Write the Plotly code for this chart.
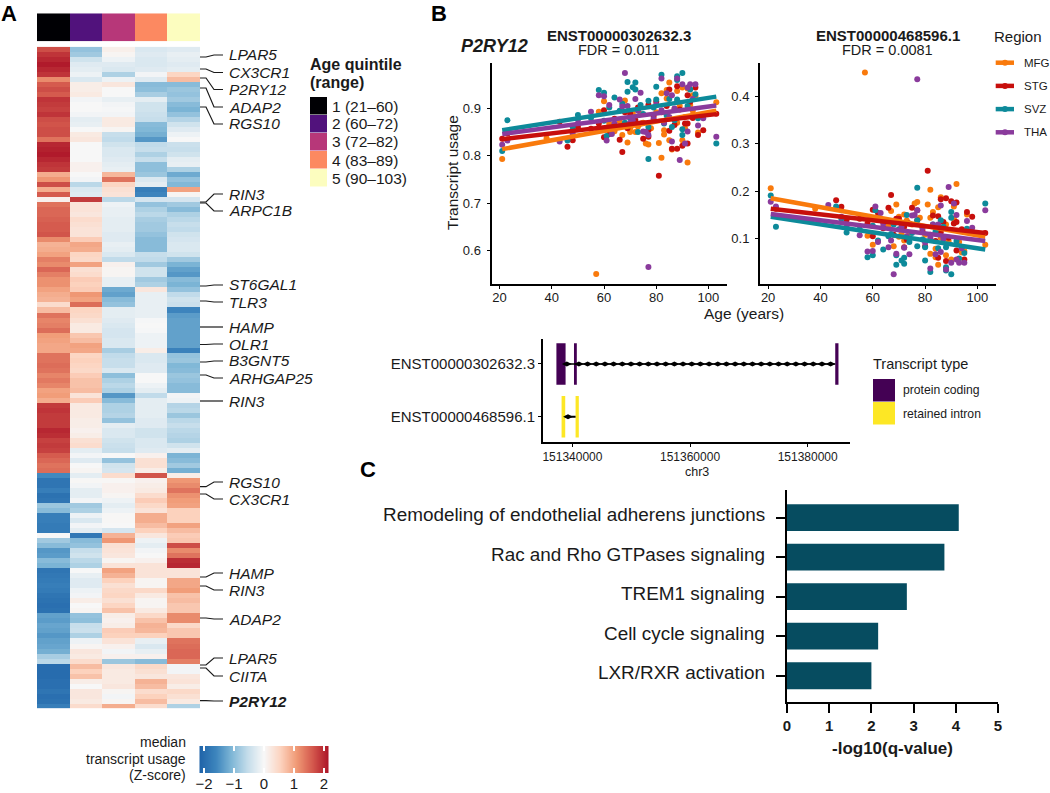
import numpy as np
import plotly.graph_objects as go

W, H = 1050, 793
FONT = "Liberation Sans"

# ---- panel A: heatmap, one list per age quintile, rows top to bottom
quintile_1 = [1.7, 1.9, 2.0, 2.1, 2.0, 1.9, 1.2, 1.6, 1.7, 1.6, 1.9, 1.85, 1.8, 1.9, 1.7, 1.65, 1.7, 1.7, 1.4, 2.0,
              2.05, 2.1, 2.0, 1.9, 1.85, 0.9, 1.1, 1.7, 0.9, 1.6, 0.1, 1.4, 1.5, 1.5, 1.55, 1.6, 1.6, 1.65, 1.2, 0.85,
              0.9, 1.0, 1.3, 1.2, 1.5, 1.3, 1.15, 1.15, 1.0, 0.9, 0.85, 0.4, 0.75, 1.4, 1.25, 1.3, 1.45, 1.05, 1.0, 0.95,
              0.95, 1.4, 1.4, 1.45, 1.4, 1.25, 1.35, 1.25, 1.0, 1.05, 0.9, 1.85, 1.9, 1.85, 1.85, 1.85, 2.0, 1.95, 1.8, 1.85,
              1.8, 1.6, 1.5, 1.4, 1.45, -1.55, -1.85, -1.85, -1.7, -1.9, -1.85, -0.85, -1.0, -1.7, -1.7, -1.75, -1.75, 0.0, -0.8, -1.0,
              -1.4, -1.35, -1.0, -1.1, -1.85, -1.8, -1.75, -1.7, -1.75, -1.85, -1.9, -1.95, -1.9, -1.3, -1.35, -1.25, -1.3, -1.4, -1.3, -1.25,
              -1.15, -0.75, -0.6, -2.0, -2.0, -2.0, -1.95, -1.95, -1.85, -1.95, -1.9, -1.7]
quintile_2 = [-0.9, -0.8, -0.4, -0.25, -0.2, -0.1, -0.3, 0.15, 0.15, 0.2, -0.05, 0.0, 0.0, -0.05, -0.2, -0.15, 0.0, 0.2, 0.25, 0.0,
              0.0, 0.0, 0.0, 0.1, 0.1, 0.0, -0.05, -0.6, -0.3, -0.25, 1.85, 0.3, 0.3, 0.25, 0.4, 0.35, 0.3, 0.3, 0.6, 0.95,
              0.9, 0.5, 0.45, 1.0, 0.35, 0.4, 0.6, 0.55, 0.6, 1.1, 1.0, 1.45, 0.5, 0.45, 0.35, 0.2, 0.2, 0.65, 0.75, 1.0,
              0.95, 0.5, 0.55, 0.5, 0.45, 0.6, 0.7, 0.7, 0.75, 0.3, 0.6, 0.2, 0.2, 0.2, 0.15, 0.15, 0.1, 0.15, 0.35, 0.4,
              -0.2, -0.05, -0.25, 0.0, 0.05, -0.2, 0.02, -0.05, -0.2, -0.2, -0.05, -0.8, -0.7, -0.1, -0.3, -0.05, -0.2, -1.8, -1.0, -0.9,
              -0.5, -0.4, -0.6, -0.7, 0.0, -0.15, -0.25, -0.25, -0.1, -0.05, 0.15, 0.0, 0.05, -0.9, -0.95, -0.5, -0.45, -0.7, -0.1, 0.05,
              0.25, 0.2, 0.4, 0.75, 0.55, 0.7, 0.15, 0.0, 0.25, 0.25, 0.2, 0.4]
quintile_3 = [0.12, 0.05, -0.1, -0.25, -0.3, -0.7, -0.1, 0.25, 0.0, 0.0, -0.15, -0.05, -0.02, -0.05, 0.2, 0.2, 0.05, -0.5, -0.55, -0.4,
              -0.3, -0.3, -0.25, -0.2, -0.15, 0.8, 1.4, 0.5, 0.35, 0.3, -0.6, -0.1, -0.15, -0.15, -0.2, -0.2, -0.2, -0.25, -0.25, -0.15,
              -0.2, -0.3, -0.55, 0.1, 0.05, 0.05, -0.15, -0.15, -1.2, -1.3, -1.0, -0.9, -0.2, -0.2, -0.25, -0.3, -0.35, -0.35, -0.3, -0.3,
              -0.75, -0.55, -0.5, -0.5, -0.3, -0.95, -0.7, -0.6, -0.7, -1.4, -1.0, -0.7, -0.7, -0.65, -0.9, -0.2, -0.3, -0.3, -0.4, -0.45,
              -0.5, 0.0, -0.9, -0.4, -0.35, 0.4, 0.02, 0.1, 0.1, 0.05, -0.1, -0.2, -0.1, 0.02, 0.02, 0.0, -0.35, 0.85, 1.1, 0.35,
              0.3, 0.25, 0.05, 0.3, 1.0, 0.85, 0.55, 0.35, 0.45, 0.5, 0.35, 0.5, 0.7, 0.15, 0.1, 0.15, 0.6, 0.55, 0.3, 0.1,
              -0.05, 0.1, -0.85, 0.25, 0.2, 0.2, 0.2, 0.25, 0.05, -0.05, 0.05, 0.9]
quintile_4 = [-0.3, -0.25, -0.3, -0.3, -0.25, -0.05, -0.25, -1.0, -0.95, -0.75, -0.2, -0.4, -0.4, -0.45, -0.5, -1.0, -1.05, -1.15, -1.4, -0.55,
              -0.5, -0.7, -0.5, -0.95, -0.95, -0.85, -0.3, -0.2, -1.7, -1.6, -0.35, -0.9, -0.7, -0.6, -0.75, -0.8, -0.8, -0.9, -1.0, -1.0,
              -1.0, -0.5, -0.55, -0.8, -0.4, -0.4, -0.8, -0.7, 0.25, -0.15, -0.15, -0.15, -0.15, -0.15, -0.02, 0.0, -0.02, -0.1, -0.1, -0.1,
              0.15, -0.3, -0.3, -0.25, -0.25, 0.0, 0.0, -0.1, -0.2, -0.55, -0.2, -0.2, -0.2, -0.2, -0.25, -0.25, -0.4, -0.4, -0.3, -0.3,
              -0.25, 0.1, 0.35, 0.35, 0.15, 1.65, 0.1, 0.15, 0.2, 0.4, 0.6, 0.45, 0.3, 0.9, 0.9, 0.75, 0.55, 0.25, -0.1, -0.2,
              -0.05, 0.0, 0.1, 0.3, 0.3, 0.3, 0.05, 0.05, 0.45, 0.2, 0.05, 0.05, 0.2, 0.45, 0.7, 0.85, 0.8, 0.55, -0.15, -0.3,
              -0.15, 0.1, -1.0, 0.45, 0.35, 0.25, 0.85, 0.75, 0.4, 0.55, 0.75, 0.4]
quintile_5 = [-0.25, -0.15, -0.2, -0.25, -0.2, 0.5, 0.75, -1.0, -0.85, -0.9, -0.8, -1.0, -1.1, -0.9, -0.65, -0.4, -0.25, -0.1, 0.0, -0.45,
              -0.5, -0.4, -0.2, -0.15, -0.7, -1.2, -0.9, -1.05, 1.0, 0.05, -0.35, -0.8, -1.0, -0.7, -0.6, -0.5, -0.55, -0.4, -0.35, -0.3,
              -0.3, -0.4, -0.8, -1.1, -1.3, -1.4, -1.0, -1.1, -0.9, -0.55, -0.4, -0.45, -1.6, -1.35, -1.3, -1.3, -1.3, -1.3, -1.3, -1.3,
              -1.65, -0.9, -0.85, -1.05, -1.0, -0.85, -0.9, -1.0, -1.0, -0.05, -0.1, -0.65, -0.6, -0.85, -0.6, -0.5, -0.6, -0.65, -0.7, -0.4,
              -0.2, -1.1, -1.0, -0.8, -1.15, 0.15, 1.1, 1.2, 1.4, 1.15, 1.05, 1.0, 0.55, 0.55, 0.55, 1.0, 0.75, 0.6, 0.65, 1.7,
              1.2, 1.4, 1.95, 2.0, 0.3, 0.3, 0.95, 0.95, 1.05, 0.7, 0.75, 0.65, 0.65, 1.2, 1.2, 0.45, 0.65, 0.65, 1.4, 1.45,
              1.5, 1.5, 1.3, -0.05, -0.05, 0.25, 0.3, 0.15, 0.45, 0.35, 0.2, -0.7]
quintile_names = ["1", "2", "3", "4", "5"]
quintile_ranges = ["1 (21–60)", "2 (60–72)", "3 (72–82)", "4 (83–89)", "5 (90–103)"]
quintile_colors = ["#000004", "#51127c", "#b73779", "#fc8961", "#fcfdbf"]

gene_names = ["LPAR5", "CX3CR1", "P2RY12", "ADAP2", "RGS10", "RIN3", "ARPC1B", "ST6GAL1", "TLR3", "HAMP", "OLR1",
              "B3GNT5", "ARHGAP25", "RIN3", "RGS10", "CX3CR1", "HAMP", "RIN3", "ADAP2", "LPAR5", "CIITA", "P2RY12"]
# px: where the leader leaves the heatmap, and where the label sits
gene_row_px = [57, 69, 78, 88, 107, 202, 203, 286, 301, 327, 344.5, 362, 375, 401,
               486.7, 494, 577, 586, 618, 665, 668, 700.6]
gene_label_px = [55, 72.5, 89.5, 107, 124, 194, 211, 285, 302, 327, 344, 361, 378, 401,
                 482, 499, 573, 590, 619, 658, 676, 701]

# ---- panel B: transcript usage vs age, one pair of lists per region
regions = ["MFG", "STG", "SVZ", "THA"]
region_colors = ["#f97a0c", "#c70f0c", "#0d8a9a", "#8a3b9c"]

mfg_age_1 = [21, 38, 57, 58, 60, 67, 68, 69, 70, 70, 72, 71, 76, 77, 78, 81, 82, 82, 83, 83, 84, 84, 85, 85, 86, 88, 88, 88,
             90, 90, 91, 92, 92, 93, 94, 95, 96, 103, 62, 64, 66, 73, 74, 75, 79, 80, 87, 89, 91, 94]
mfg_use_1 = [.793, .837, .55, .893, .915, .844, .917, .828, .858, .85, .85, .89, .826, .824, .858, .827, .796, .932, .854,
             .845, .921, .939, .955, .833, .813, .87, .937, .914, .944, .833, .858, .786, .942, .907, .928, .926, .849, .913,
             .868, .852, .873, .862, .888, .87, .875, .892, .899, .905, .882, .895]
stg_age_1 = [21, 23, 43, 46, 48, 50, 55, 60, 60, 62, 66, 67, 70, 71, 72, 75, 77, 77, 77, 80, 81, 85, 85, 86, 88, 88, 90, 91,
             92, 92, 92, 93, 95, 96, 98, 103, 58, 64, 68, 69, 73, 74, 79, 82, 84, 87, 89, 94]
stg_use_1 = [.836, .847, .872, .819, .833, .861, .857, .896, .839, .846, .834, .808, .889, .879, .875, .836, .907, .84, .854,
             .914, .758, .94, .853, .815, .815, .947, .821, .868, .826, .868, .928, .914, .944, .844, .854, .889,
             .868, .878, .892, .858, .902, .868, .884, .892, .905, .865, .898, .88]
svz_age_1 = [21, 23, 46, 48, 50, 58, 60, 60, 61, 62, 64, 67, 69, 69, 71, 72, 72, 74, 77, 77, 77, 80, 80, 82, 83, 86, 88, 88,
             88, 90, 90, 90, 93, 96, 103, 55, 66, 68, 70, 73, 75, 79, 84, 85, 87, 92, 95]
svz_use_1 = [.81, .875, .832, .861, .886, .939, .933, .874, .842, .902, .923, .91, .956, .935, .945, .955, .94, .907, .916,
             .861, .793, .946, .919, .971, .868, .861, .968, .96, .919, .975, .844, .856, .94, .879, .826,
             .88, .895, .87, .88, .85, .888, .902, .885, .92, .875, .905, .93]
tha_age_1 = [21, 23, 43, 48, 55, 58, 60, 61, 62, 63, 66, 68, 67, 70, 72, 74, 75, 77, 77, 82, 82, 84, 85, 86, 86, 88, 89, 90,
             91, 92, 92, 93, 95, 96, 98, 103, 50, 64, 69, 71, 73, 76, 79, 80, 83, 87, 94]
tha_use_1 = [.823, .832, .83, .847, .893, .928, .926, .832, .907, .846, .919, .975, .904, .87, .92, .933, .851, .565, .844,
             .963, .896, .932, .882, .928, .83, .963, .791, .951, .826, .851, .944, .951, .951, .864, .879, .84,
             .876, .868, .905, .875, .895, .85, .878, .908, .87, .9, .92]

mfg_age_2 = [21, 38, 57, 58, 60, 62, 67, 68, 69, 70, 70, 72, 72, 77, 76, 78, 82, 81, 82, 82, 83, 84, 84, 85, 85, 86, 86, 88,
             88, 90, 91, 91, 92, 93, 94, 95, 96, 103, 64, 66, 71, 73, 74, 75, 79, 80, 87, 89]
mfg_use_2 = [.206, .163, .45, .106, .087, .146, .158, .084, .172, .146, .104, .151, .096, .177, .174, .144, .203, .172, .144,
             .068, .156, .061, .079, .045, .166, .187, .102, .13, .065, .056, .168, .142, .215, .093, .071, .074, .151, .087,
             .125, .128, .11, .138, .112, .13, .125, .108, .1, .095]
stg_age_2 = [23, 46, 48, 50, 55, 60, 60, 66, 67, 70, 72, 72, 75, 77, 77, 80, 81, 83, 85, 85, 86, 86, 88, 88, 90, 91, 92, 92,
             92, 95, 96, 98, 103, 58, 62, 64, 68, 69, 73, 74, 79, 82, 84, 87, 89, 94]
stg_use_2 = [.163, .181, .167, .14, .142, .161, .105, .165, .192, .142, .125, .082, .165, .16, .139, .084, .243, .149, .06,
             .147, .183, .114, .053, .185, .179, .132, .075, .135, .176, .056, .156, .146, .112,
             .132, .154, .122, .108, .142, .098, .132, .116, .108, .095, .135, .102, .12]
svz_age_2 = [21, 23, 46, 48, 50, 58, 60, 60, 61, 62, 64, 67, 69, 69, 71, 72, 72, 74, 77, 77, 77, 80, 80, 82, 83, 86, 88, 88,
             88, 90, 90, 90, 93, 96, 103, 55, 66, 68, 70, 73, 75, 79, 84, 85, 87, 92, 95]
svz_use_2 = [.191, .125, .168, .142, .113, .061, .065, .127, .16, .096, .077, .11, .045, .065, .054, .06, .047, .093, .084,
             .139, .207, .054, .082, .03, .13, .139, .04, .033, .082, .025, .156, .144, .058, .121, .174,
             .12, .105, .13, .12, .15, .112, .098, .115, .08, .125, .095, .07]
tha_age_2 = [21, 23, 43, 48, 55, 58, 60, 61, 62, 63, 66, 68, 67, 69, 72, 74, 75, 77, 77, 82, 82, 84, 85, 86, 86, 88, 89, 90,
             91, 92, 92, 93, 95, 96, 98, 103, 50, 64, 71, 73, 76, 79, 80, 83, 87, 94]
tha_use_2 = [.178, .168, .171, .146, .107, .073, .074, .168, .093, .154, .082, .025, .096, .068, .081, .067, .149, .16, .436,
             .037, .102, .067, .13, .17, .072, .035, .209, .049, .174, .056, .15, .049, .049, .137, .123, .16,
             .124, .132, .125, .105, .15, .122, .092, .13, .1, .08]

fit_age = [21, 103]
fit_1 = {"MFG": [.814, .895], "STG": [.835, .888], "SVZ": [.854, .925], "THA": [.846, .906]}
fit_2 = {"MFG": [.185, .104], "STG": [.163, .112], "SVZ": [.146, .077], "THA": [.152, .095]}

# ---- panel B: transcript structure
transcripts = ["ENST00000302632.3", "ENST00000468596.1"]
transcript_types = ["protein coding", "retained intron"]
transcript_colors = ["#440154", "#fde725"]
exon_starts_1 = [151337280, 151340270, 151384690]
exon_ends_1 = [151338840, 151340750, 151385240]
exon_starts_2 = [151338160, 151340540]
exon_ends_2 = [151338780, 151341090]
arrows_1 = [151339050, 151341100, 151342580, 151344050, 151345530, 151347000, 151348480, 151349960, 151351430,
            151352910, 151354380, 151355860, 151357340, 151358810, 151360290, 151361760, 151363240, 151364720,
            151366190, 151367670, 151369140, 151370620, 151372100, 151373570, 151375050, 151376520, 151378000,
            151379480, 151380950, 151382430, 151383900]
arrows_2 = [151339250]

# ---- panel C
pathways = ["Remodeling of endothelial adherens junctions", "Rac and Rho GTPases signaling", "TREM1 signaling",
            "Cell cycle signaling", "LXR/RXR activation"]
q_values = [4.07, 3.73, 2.84, 2.16, 2.0]

heat_scale = [[0.0, "#1f63a8"], [0.13, "#3d85bd"], [0.25, "#7eb6d6"], [0.375, "#c3dcea"], [0.5, "#f7f7f7"],
              [0.625, "#fcd3bf"], [0.75, "#f09a76"], [0.875, "#d4594d"], [1.0, "#ac1427"]]


def px(x):
    return x / W


def py(y):
    return 1 - y / H


def axis_line(**kw):
    base = dict(showline=True, linecolor="black", linewidth=2, ticks="outside", ticklen=3, tickwidth=1.2,
                tickcolor="black", showgrid=False, zeroline=False, tickfont=dict(size=13, color="#1a1a1a"))
    base.update(kw)
    return base


def text(x, y, s, size=13, anchor="left", color="#1a1a1a", angle=0):
    fig.add_annotation(x=px(x), y=py(y), xref="paper", yref="paper", text=s, showarrow=False, xanchor=anchor,
                       yanchor="middle", textangle=angle, font=dict(size=size, color=color, family=FONT),
                       borderpad=0, borderwidth=0)


fig = go.Figure()

# heatmap
z = np.array([quintile_1, quintile_2, quintile_3, quintile_4, quintile_5]).T
fig.add_trace(go.Heatmap(z=z, x=quintile_names, colorscale=heat_scale, zmin=-2.15, zmax=2.15, showscale=False,
                         xaxis="x", yaxis="y"))
# annotation strip above it
fig.add_trace(go.Heatmap(z=[[1, 2, 3, 4, 5]], x=quintile_names, showscale=False, xaxis="x2", yaxis="y2",
                         zmin=1, zmax=5, colorscale=[[i / 4, c] for i, c in enumerate(quintile_colors)]))
# colour key
key_values = np.linspace(-2.15, 2.15, 129)
fig.add_trace(go.Heatmap(z=[key_values], x=key_values, colorscale=heat_scale, zmin=-2.15, zmax=2.15, showscale=False,
                         xaxis="x7", yaxis="y7"))

# scatter panels
ages_1 = [mfg_age_1, stg_age_1, svz_age_1, tha_age_1]
uses_1 = [mfg_use_1, stg_use_1, svz_use_1, tha_use_1]
ages_2 = [mfg_age_2, stg_age_2, svz_age_2, tha_age_2]
uses_2 = [mfg_use_2, stg_use_2, svz_use_2, tha_use_2]
for ages, uses, fits, xa, ya in [(ages_1, uses_1, fit_1, "x3", "y3"), (ages_2, uses_2, fit_2, "x4", "y4")]:
    for i, r in enumerate(regions):
        fig.add_trace(go.Scatter(x=ages[i], y=uses[i], mode="markers", name=r, xaxis=xa, yaxis=ya, showlegend=False,
                                 marker=dict(size=6, color=region_colors[i])))
    for i, r in enumerate(regions):
        fig.add_trace(go.Scatter(x=fit_age, y=fits[r], mode="lines", name=r, xaxis=xa, yaxis=ya, showlegend=False,
                                 line=dict(color=region_colors[i], width=4.5)))

# transcript structure
fig.add_trace(go.Bar(y=[transcripts[0]] * 3, base=exon_starts_1, x=np.array(exon_ends_1) - np.array(exon_starts_1),
                     orientation="h", width=0.79, marker=dict(color=transcript_colors[0], line_width=0),
                     xaxis="x5", yaxis="y5", showlegend=False))
fig.add_trace(go.Bar(y=[transcripts[1]] * 2, base=exon_starts_2, x=np.array(exon_ends_2) - np.array(exon_starts_2),
                     orientation="h", width=0.79, marker=dict(color=transcript_colors[1], line_width=0),
                     xaxis="x5", yaxis="y5", showlegend=False))
fig.add_trace(go.Scatter(x=[exon_ends_1[0], exon_starts_1[2]], y=[transcripts[0]] * 2, mode="lines", xaxis="x5",
                         yaxis="y5", showlegend=False, line=dict(color="black", width=1.3)))
fig.add_trace(go.Scatter(x=arrows_1, y=[transcripts[0]] * len(arrows_1), mode="markers", xaxis="x5", yaxis="y5",
                         showlegend=False, marker=dict(symbol="diamond-wide", size=7, color="black")))
fig.add_trace(go.Scatter(x=[exon_ends_2[0], exon_starts_2[1]], y=[transcripts[1]] * 2, mode="lines", xaxis="x5",
                         yaxis="y5", showlegend=False, line=dict(color="black", width=2)))
fig.add_trace(go.Scatter(x=arrows_2, y=[transcripts[1]], mode="markers", xaxis="x5", yaxis="y5", showlegend=False,
                         marker=dict(symbol="diamond-wide", size=7, color="black")))

# pathway bars
fig.add_trace(go.Bar(y=pathways, x=q_values, orientation="h", width=0.68, xaxis="x6", yaxis="y6", showlegend=False,
                     marker=dict(color="#064c60", line_width=0)))

fig.update_layout(
    width=W, height=H, margin=dict(l=0, r=0, t=0, b=0, autoexpand=False), plot_bgcolor="white", paper_bgcolor="white",
    barmode="overlay", font=dict(family=FONT, color="#1a1a1a"), autosize=False,
    xaxis=dict(domain=[px(37), px(200)], visible=False),
    yaxis=dict(domain=[py(708.3), py(46.7)], autorange="reversed", visible=False),
    xaxis2=dict(domain=[px(37), px(200)], visible=False, anchor="y2"),
    yaxis2=dict(domain=[py(41.3), py(13.3)], visible=False, anchor="x2"),
    xaxis3=axis_line(domain=[px(491.5), px(727)], range=[16.9, 107.1], tickvals=[20, 40, 60, 80, 100], anchor="y3",
                     ticklabelstandoff=-3),
    yaxis3=axis_line(domain=[py(284), py(63)], range=[0.529, 0.996], tickvals=[0.6, 0.7, 0.8, 0.9], anchor="x3",
                     tickformat=".1f", ticklabelstandoff=3),
    xaxis4=axis_line(domain=[px(760), px(996)], range=[16.9, 107.1], tickvals=[20, 40, 60, 80, 100], anchor="y4",
                     ticklabelstandoff=-3),
    yaxis4=axis_line(domain=[py(284), py(63)], range=[0.0045, 0.47], tickvals=[0.1, 0.2, 0.3, 0.4], anchor="x4",
                     tickformat=".1f", ticklabelstandoff=3),
    xaxis5=axis_line(domain=[px(543), px(850)], range=[151335000, 151387200], anchor="y5", tickformat="d",
                     tickvals=[151340000, 151360000, 151380000], tickfont=dict(size=12, color="#1a1a1a")),
    yaxis5=axis_line(domain=[py(441.7), py(339)], range=[-0.474, 1.474], anchor="x5", type="category",
                     categoryorder="array", categoryarray=transcripts[::-1], tickfont=dict(size=15, color="#1a1a1a")),
    xaxis6=axis_line(domain=[px(787), px(998)], range=[0, 5], tickvals=[0, 1, 2, 3, 4, 5], anchor="y6", ticklen=9,
                     tickwidth=2, tickfont=dict(size=15, color="#1a1a1a", weight=700)),
    yaxis6=axis_line(domain=[py(701.7), py(490)], range=[-0.658, 4.70], anchor="x6", type="category", ticklen=9,
                     tickwidth=2, categoryorder="array", categoryarray=pathways[::-1], showticklabels=False),
    xaxis7=dict(domain=[px(199.5), px(328.5)], range=[-2.15, 2.15], anchor="y7", tickvals=[-2, -1, 0, 1, 2],
                ticks="inside", ticklen=5, tickwidth=1.5, tickcolor="white", mirror="ticks", showline=False,
                showgrid=False, zeroline=False, tickfont=dict(size=15, color="#1a1a1a")),
    yaxis7=dict(domain=[py(773), py(746)], visible=False, anchor="x7"),
)

# gene labels with their leader lines
shapes = []
for name, row_y, label_y in zip(gene_names, gene_row_px, gene_label_px):
    path = (f"M {px(200)} {py(row_y)} L {px(206)} {py(row_y)} L {px(214)} {py(label_y)} L {px(223)} {py(label_y)}")
    shapes.append(dict(type="path", xref="paper", yref="paper", path=path, line=dict(color="#1a1a1a", width=1.2)))
for i, (name, label_y) in enumerate(zip(gene_names, gene_label_px)):
    label = f"<b><i>{name}</i></b>" if i == len(gene_names) - 1 else f"<i>{name}</i>"
    text(229, label_y, label, size=15.5)

# age quintile legend
text(310, 64, "<b>Age quintile</b>", size=16)
text(310, 82, "<b>(range)</b>", size=16)
for i, (lab, col) in enumerate(zip(quintile_ranges, quintile_colors)):
    shapes.append(dict(type="rect", xref="paper", yref="paper", x0=px(310), x1=px(327), y0=py(97 + 18 * i),
                       y1=py(114.5 + 18 * i), fillcolor=col, line_width=0))
    text(332, 106 + 18 * i, lab, size=15.5)

text(186, 742, "median", size=14, anchor="right")
text(186, 759, "transcript usage", size=14, anchor="right")
text(186, 775, "(Z-score)", size=14, anchor="right")

# panel B titles and shared axis labels
text(619, 35, "<b>ENST00000302632.3</b>", size=15, anchor="center")
text(619, 50, "FDR = 0.011", size=14.5, anchor="center")
text(887.5, 35, "<b>ENST00000468596.1</b>", size=15, anchor="center")
text(887.5, 50, "FDR = 0.0081", size=14.5, anchor="center")
text(494, 46, "<b><i>P2RY12</i></b>", size=18, anchor="center")
text(453, 173, "Transcript usage", size=15.5, anchor="center", angle=-90)
text(744, 313, "Age (years)", size=15.5, anchor="center")

# region legend
text(994, 37, "Region", size=15)
for i, (r, col) in enumerate(zip(regions, region_colors)):
    key_y = 62.7 + 23.2 * i
    shapes.append(dict(type="line", xref="paper", yref="paper", x0=px(995.7), x1=px(1014), y0=py(key_y), y1=py(key_y),
                       line=dict(color=col, width=4.5)))
    shapes.append(dict(type="circle", xref="paper", yref="paper", x0=px(1002), x1=px(1008), y0=py(key_y + 3),
                       y1=py(key_y - 3), fillcolor=col, line_width=0))
    text(1024, key_y, r, size=11.5)

# transcript type legend
text(873, 364, "Transcript type", size=14.5)
for i, (lab, col) in enumerate(zip(transcript_types, transcript_colors)):
    shapes.append(dict(type="rect", xref="paper", yref="paper", x0=px(873), x1=px(895), y0=py(379 + 23 * i),
                       y1=py(401.5 + 23 * i), fillcolor=col, line_width=0))
    text(903, 390 + 24 * i, lab, size=12.2)
text(696.5, 472, "chr3", size=12.5, anchor="center")

# panel C labels
for name in pathways:
    fig.add_annotation(x=px(766.5), y=name, xref="paper", yref="y6", text=name, showarrow=False, xanchor="right",
                       yanchor="middle", yshift=3, font=dict(size=18.9, color="#1a1a1a", family=FONT))
text(892.5, 748, "<b>-log10(q-value)</b>", size=17, anchor="center")

# panel letters
text(1, 13, "<b>A</b>", size=22, color="black")
text(431, 13, "<b>B</b>", size=22, color="black")
text(360, 470, "<b>C</b>", size=22, color="black")

fig.update_layout(shapes=shapes)
# the browser's default body margin would push the fixed-size page past the window
fig.write_html("out.html", config={"displayModeBar": False},
               post_script="document.body.style.margin='0';document.documentElement.style.overflow='hidden';")
